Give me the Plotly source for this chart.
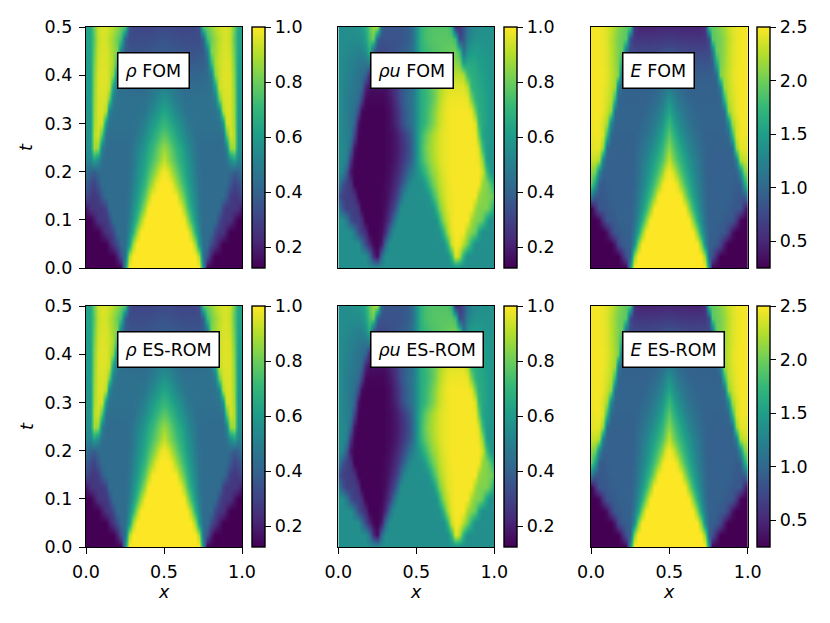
import plotly.graph_objects as go

# ---------------- data ----------------
x_grid = [0.0, 0.025, 0.05, 0.075, 0.1, 0.125, 0.15, 0.175, 0.2, 0.225, 0.25, 0.275, 0.3, 0.325,
          0.35, 0.375, 0.4, 0.425, 0.45, 0.475, 0.5, 0.525, 0.55, 0.575, 0.6, 0.625, 0.65, 0.675,
          0.7, 0.725, 0.75, 0.775, 0.8, 0.825, 0.85, 0.875, 0.9, 0.925, 0.95, 0.975, 1.0]
t_grid = [0.0, 0.025, 0.05, 0.075, 0.1, 0.125, 0.15, 0.175, 0.2, 0.225, 0.25, 0.275, 0.3, 0.325,
          0.35, 0.375, 0.4, 0.425, 0.45, 0.475, 0.5]

rho = [
 [.125,.125,.125,.125,.125,.125,.125,.125,.125,.125,.56,1,1,1,1,1,1,1,1,1,1, 1,1,1,1,1,1,1,1,1,.56,.125,.125,.125,.125,.125,.125,.125,.125,.125,.125],
 [.125,.125,.125,.125,.125,.125,.125,.125,.2,.35,.45,.88,1,1,1,1,1,1,1,1,1, 1,1,1,1,1,1,1,1,.88,.45,.35,.2,.125,.125,.125,.125,.125,.125,.125,.125],
 [.125,.125,.125,.125,.125,.125,.19,.26,.33,.43,.44,.6,.88,1,1,1,1,1,1,1,1, 1,1,1,1,1,1,1,.88,.6,.44,.43,.33,.26,.19,.125,.125,.125,.125,.125,.125],
 [.125,.125,.125,.125,.19,.26,.27,.32,.43,.43,.43,.53,.69,.88,1,1,1,1,1,1,1, 1,1,1,1,1,1,.88,.69,.53,.43,.43,.43,.32,.27,.26,.19,.125,.125,.125,.125],
 [.125,.125,.18,.255,.27,.27,.32,.43,.43,.43,.43,.49,.6,.73,.88,.99,1,1,1,1,1, 1,1,1,1,.99,.88,.73,.6,.49,.43,.43,.43,.43,.32,.27,.27,.255,.18,.125,.125],
 [.18,.25,.27,.27,.27,.31,.43,.43,.43,.43,.43,.47,.56,.65,.76,.88,.99,1,1,1,1, 1,1,1,.99,.88,.76,.65,.56,.47,.43,.43,.43,.43,.43,.31,.27,.27,.27,.25,.18],
 [.33,.28,.27,.29,.38,.43,.43,.43,.43,.43,.43,.46,.53,.6,.69,.78,.88,.99,1,1,1, 1,1,.99,.88,.78,.69,.6,.53,.46,.43,.43,.43,.43,.43,.43,.38,.29,.27,.28,.33],
 [.38,.33,.3,.37,.43,.43,.43,.43,.43,.43,.43,.45,.51,.57,.64,.71,.79,.88,.97,1,1, 1,.97,.88,.79,.71,.64,.57,.51,.45,.43,.43,.43,.43,.43,.43,.43,.37,.3,.33,.38],
 [.45,.4,.38,.42,.43,.43,.43,.43,.43,.43,.43,.45,.49,.55,.6,.66,.73,.8,.88,.96,.99, .96,.88,.8,.73,.66,.6,.55,.49,.45,.43,.43,.43,.43,.43,.43,.43,.42,.38,.4,.45],
 [.52,.52,.62,.55,.45,.43,.43,.43,.43,.43,.43,.44,.48,.53,.58,.63,.68,.74,.8,.86,.92, .86,.8,.74,.68,.63,.58,.53,.48,.44,.43,.43,.43,.43,.43,.43,.45,.55,.62,.52,.52],
 [.55,.57,.88,.85,.5,.44,.43,.43,.43,.43,.43,.44,.47,.51,.55,.6,.65,.7,.76,.82,.86, .82,.76,.7,.65,.6,.55,.51,.47,.44,.43,.43,.43,.43,.43,.44,.5,.85,.88,.57,.55],
 [.56,.58,.9,.94,.75,.46,.44,.44,.44,.44,.44,.44,.45,.48,.51,.55,.59,.64,.69,.74,.77, .74,.69,.64,.59,.55,.51,.48,.45,.44,.44,.44,.44,.44,.44,.46,.75,.94,.9,.58,.56],
 [.57,.58,.88,.95,.93,.58,.46,.45,.45,.45,.45,.45,.45,.46,.48,.51,.55,.59,.63,.67,.7, .67,.63,.59,.55,.51,.48,.46,.45,.45,.45,.45,.45,.45,.46,.58,.93,.95,.88,.58,.57],
 [.58,.59,.87,.95,.95,.9,.52,.46,.45,.45,.45,.45,.45,.45,.46,.47,.5,.53,.57,.61,.63, .61,.57,.53,.5,.47,.46,.45,.45,.45,.45,.45,.45,.46,.52,.9,.95,.95,.87,.59,.58],
 [.58,.6,.86,.95,.95,.94,.8,.5,.46,.45,.45,.45,.45,.45,.45,.45,.47,.49,.52,.55,.57, .55,.52,.49,.47,.45,.45,.45,.45,.45,.45,.45,.46,.5,.8,.94,.95,.95,.86,.6,.58],
 [.59,.6,.85,.95,.96,.95,.93,.62,.47,.44,.44,.43,.43,.43,.43,.43,.44,.46,.48,.5,.51, .5,.48,.46,.44,.43,.43,.43,.43,.43,.44,.44,.47,.62,.93,.95,.96,.95,.85,.6,.59],
 [.6,.61,.84,.95,.96,.96,.92,.84,.5,.43,.42,.41,.41,.41,.41,.41,.42,.43,.44,.46,.47, .46,.44,.43,.42,.41,.41,.41,.41,.41,.42,.43,.5,.84,.92,.96,.96,.95,.84,.61,.6],
 [.6,.62,.82,.94,.96,.95,.93,.88,.7,.43,.39,.39,.38,.38,.38,.38,.39,.4,.41,.42,.43, .42,.41,.4,.39,.38,.38,.38,.38,.39,.39,.43,.7,.88,.93,.95,.96,.94,.82,.62,.6],
 [.61,.63,.8,.93,.95,.95,.92,.87,.82,.5,.37,.36,.35,.35,.35,.35,.36,.36,.37,.37,.38, .37,.37,.36,.36,.35,.35,.35,.35,.36,.37,.5,.82,.87,.92,.95,.95,.93,.8,.63,.61],
 [.62,.64,.78,.92,.95,.94,.91,.86,.8,.72,.4,.33,.33,.33,.33,.33,.33,.34,.34,.35,.35, .35,.34,.34,.33,.33,.33,.33,.33,.33,.4,.72,.8,.86,.91,.94,.95,.92,.78,.64,.62],
 [.62,.64,.8,.93,.95,.95,.93,.9,.85,.8,.75,.35,.31,.31,.31,.31,.31,.31,.32,.32,.32, .32,.32,.31,.31,.31,.31,.31,.31,.35,.75,.8,.85,.9,.93,.95,.95,.93,.8,.64,.62],
]

rhou = [
 [.56,.56,.56,.56,.56,.56,.56,.56,.56,.56,.56,.56,.56,.56,.56,.56,.56,.56,.56,.56,.56, .56,.56,.56,.56,.56,.56,.56,.56,.56,.56,.56,.56,.56,.56,.56,.56,.56,.56,.56,.56],
 [.56,.56,.56,.56,.56,.56,.56,.56,.44,.23,.15,.42,.56,.56,.56,.56,.56,.56,.56,.56,.56, .56,.56,.56,.56,.56,.56,.56,.56,.7,.97,.89,.68,.56,.56,.56,.56,.56,.56,.56,.56],
 [.56,.56,.56,.56,.56,.56,.45,.32,.22,.14,.13,.19,.42,.56,.56,.56,.56,.56,.56,.56,.56, .56,.56,.56,.56,.56,.56,.56,.7,.93,.99,.98,.9,.8,.67,.56,.56,.56,.56,.56,.56],
 [.56,.56,.56,.56,.47,.33,.29,.24,.13,.13,.13,.15,.24,.42,.55,.56,.56,.56,.56,.56,.56, .56,.56,.56,.56,.56,.57,.7,.88,.97,.99,.99,.99,.88,.83,.79,.65,.56,.56,.56,.56],
 [.56,.56,.48,.34,.29,.29,.24,.13,.13,.13,.13,.14,.19,.27,.42,.55,.56,.56,.56,.56,.56, .56,.56,.56,.56,.57,.7,.85,.93,.98,.99,.99,.99,.99,.88,.83,.83,.78,.64,.56,.56],
 [.49,.36,.29,.29,.29,.25,.13,.13,.13,.13,.13,.14,.16,.22,.3,.42,.55,.56,.56,.56,.56, .56,.56,.56,.57,.7,.82,.9,.96,.98,.99,.99,.99,.99,.99,.87,.83,.83,.83,.76,.63],
 [.36,.3,.29,.28,.25,.13,.13,.13,.13,.13,.13,.14,.15,.19,.24,.32,.42,.54,.56,.56,.56, .56,.56,.58,.7,.8,.88,.93,.97,.98,.99,.99,.99,.99,.99,.99,.87,.84,.83,.82,.76],
 [.48,.36,.29,.26,.13,.13,.13,.13,.13,.13,.13,.13,.15,.17,.21,.26,.33,.42,.52,.56,.56, .56,.6,.7,.79,.86,.91,.95,.97,.99,.99,.99,.99,.99,.99,.99,.99,.86,.83,.76,.64],
 [.55,.52,.38,.18,.13,.13,.13,.13,.13,.13,.13,.13,.14,.16,.19,.23,.27,.34,.42,.5,.56, .62,.7,.78,.85,.89,.93,.96,.98,.99,.99,.99,.99,.99,.99,.99,.99,.94,.74,.6,.57],
 [.55,.54,.5,.26,.14,.13,.13,.13,.13,.13,.13,.13,.14,.15,.17,.2,.24,.29,.35,.43,.56, .69,.77,.83,.88,.92,.95,.97,.98,.99,.99,.99,.99,.99,.99,.99,.98,.86,.62,.58,.57],
 [.55,.54,.52,.4,.17,.13,.13,.13,.13,.13,.13,.13,.14,.15,.17,.19,.23,.27,.33,.42,.56, .7,.79,.85,.89,.93,.95,.97,.98,.99,.99,.99,.99,.99,.99,.99,.95,.72,.6,.58,.57],
 [.55,.53,.51,.48,.3,.14,.13,.13,.13,.13,.13,.13,.14,.15,.17,.2,.24,.29,.35,.43,.56, .69,.77,.83,.88,.92,.95,.97,.98,.99,.99,.99,.99,.99,.99,.98,.82,.64,.61,.59,.57],
 [.55,.53,.5,.47,.4,.17,.13,.13,.13,.13,.13,.13,.14,.16,.19,.24,.3,.36,.42,.47,.56, .65,.7,.76,.82,.88,.93,.96,.98,.99,.99,.99,.99,.99,.99,.95,.72,.65,.62,.59,.57],
 [.55,.53,.5,.47,.44,.32,.15,.13,.13,.13,.13,.13,.14,.16,.2,.25,.31,.37,.42,.47,.56, .65,.7,.75,.81,.87,.92,.96,.98,.99,.99,.99,.99,.99,.97,.8,.68,.65,.62,.59,.57],
 [.55,.53,.5,.48,.46,.43,.3,.15,.14,.14,.14,.14,.15,.18,.22,.28,.34,.39,.43,.47,.56, .65,.69,.73,.78,.84,.9,.94,.97,.98,.98,.98,.98,.97,.82,.69,.66,.64,.62,.59,.57],
 [.55,.53,.51,.49,.47,.45,.42,.22,.16,.16,.16,.16,.17,.2,.24,.29,.34,.38,.42,.46,.56, .66,.7,.74,.78,.83,.88,.92,.95,.96,.96,.96,.96,.9,.7,.67,.65,.63,.61,.59,.57],
 [.55,.54,.52,.5,.48,.46,.44,.4,.23,.21,.21,.21,.22,.24,.27,.31,.35,.38,.42,.46,.56, .66,.7,.74,.77,.81,.85,.88,.9,.91,.91,.91,.89,.72,.68,.66,.64,.62,.6,.58,.57],
 [.55,.54,.53,.51,.5,.48,.47,.47,.5,.3,.27,.28,.29,.3,.32,.34,.36,.38,.41,.45,.56, .67,.71,.74,.76,.78,.8,.82,.83,.84,.85,.82,.62,.65,.65,.64,.62,.61,.59,.58,.57],
 [.55,.55,.54,.53,.52,.51,.52,.56,.68,.4,.32,.32,.33,.34,.35,.36,.37,.39,.41,.45,.56, .67,.71,.73,.75,.76,.77,.78,.79,.8,.8,.72,.44,.56,.6,.61,.6,.59,.58,.57,.57],
 [.55,.55,.55,.55,.55,.55,.57,.62,.75,.8,.4,.35,.35,.35,.35,.35,.36,.37,.39,.44,.56, .68,.73,.75,.76,.77,.77,.77,.77,.77,.72,.32,.37,.5,.55,.57,.57,.57,.57,.57,.57],
 [.55,.55,.56,.56,.57,.58,.6,.66,.78,.86,.88,.42,.36,.36,.36,.36,.36,.37,.39,.44,.56, .68,.73,.75,.76,.76,.76,.76,.76,.7,.24,.26,.34,.46,.52,.54,.55,.56,.56,.57,.57],
]

energy = [
 [.25,.25,.25,.25,.25,.25,.25,.25,.25,.25,1.35,2.5,2.5,2.5,2.5,2.5,2.5,2.5,2.5,2.5,2.5, 2.5,2.5,2.5,2.5,2.5,2.5,2.5,2.5,2.5,1.35,.25,.25,.25,.25,.25,.25,.25,.25,.25,.25],
 [.25,.25,.25,.25,.25,.25,.25,.25,.5,.82,.95,2.09,2.5,2.5,2.5,2.5,2.5,2.5,2.5,2.5,2.5, 2.5,2.5,2.5,2.5,2.5,2.5,2.5,2.5,2.09,.95,.82,.5,.25,.25,.25,.25,.25,.25,.25,.25],
 [.25,.25,.25,.25,.25,.25,.44,.75,.88,.93,.94,1.33,2.09,2.5,2.5,2.5,2.5,2.5,2.5,2.5,2.5, 2.5,2.5,2.5,2.5,2.5,2.5,2.5,2.09,1.33,.94,.93,.88,.75,.44,.25,.25,.25,.25,.25,.25],
 [.25,.25,.25,.25,.37,.68,.87,.88,.93,.94,.94,1.16,1.54,2.09,2.48,2.5,2.5,2.5,2.5,2.5,2.5, 2.5,2.5,2.5,2.5,2.5,2.48,2.09,1.54,1.16,.94,.94,.93,.88,.87,.68,.37,.25,.25,.25,.25],
 [.25,.25,.31,.62,.86,.87,.9,.94,.94,.94,.94,1.08,1.33,1.66,2.09,2.48,2.5,2.5,2.5,2.5,2.5, 2.5,2.5,2.5,2.5,2.48,2.09,1.66,1.33,1.08,.94,.94,.94,.94,.9,.87,.86,.62,.31,.25,.25],
 [.25,.56,.86,.87,.88,.92,.94,.94,.94,.94,.94,1.04,1.22,1.45,1.73,2.09,2.48,2.5,2.5,2.5,2.5, 2.5,2.5,2.5,2.48,2.09,1.73,1.45,1.22,1.04,.94,.94,.94,.94,.94,.92,.88,.87,.86,.56,.25],
 [1.2,.9,.87,.88,.92,.94,.94,.94,.94,.94,.94,1.01,1.16,1.33,1.54,1.79,2.09,2.46,2.5,2.5,2.5, 2.5,2.5,2.46,2.09,1.79,1.54,1.33,1.16,1.01,.94,.94,.94,.94,.94,.94,.92,.88,.87,.9,1.2],
 [1.95,1.5,.92,.9,.94,.94,.94,.94,.94,.94,.94,.99,1.11,1.25,1.41,1.6,1.83,2.09,2.4,2.5,2.5, 2.5,2.4,2.09,1.83,1.6,1.41,1.25,1.11,.99,.94,.94,.94,.94,.94,.94,.94,.9,.92,1.5,1.95],
 [2.1,2.0,1.3,.95,.94,.94,.94,.94,.94,.94,.94,.98,1.08,1.2,1.33,1.48,1.66,1.86,2.09,2.36,2.48, 2.36,2.09,1.86,1.66,1.48,1.33,1.2,1.08,.98,.94,.94,.94,.94,.94,.94,.94,.95,1.3,2.0,2.1],
 [2.3,2.3,2.2,1.2,.95,.94,.94,.94,.94,.94,.94,.97,1.06,1.16,1.27,1.39,1.53,1.69,1.86,2.05,2.3, 2.05,1.86,1.69,1.53,1.39,1.27,1.16,1.06,.97,.94,.94,.94,.94,.94,.94,.95,1.2,2.2,2.3,2.3],
 [2.4,2.42,2.4,2.1,1.0,.95,.95,.95,.95,.95,.95,.97,1.03,1.1,1.18,1.28,1.4,1.55,1.72,1.9,2.1, 1.9,1.72,1.55,1.4,1.28,1.18,1.1,1.03,.97,.95,.95,.95,.95,.95,.95,1.0,2.1,2.4,2.42,2.4],
 [2.42,2.45,2.45,2.35,1.7,1.0,.96,.96,.96,.96,.96,.96,.99,1.04,1.1,1.18,1.28,1.4,1.55,1.73,1.92, 1.73,1.55,1.4,1.28,1.18,1.1,1.04,.99,.96,.96,.96,.96,.96,.96,1.0,1.7,2.35,2.45,2.45,2.42],
 [2.45,2.47,2.45,2.35,2.15,1.3,.98,.97,.97,.97,.97,.97,.97,1.0,1.04,1.1,1.18,1.28,1.4,1.57,1.75, 1.57,1.4,1.28,1.18,1.1,1.04,1.0,.97,.97,.97,.97,.97,.97,.98,1.3,2.15,2.35,2.45,2.47,2.45],
 [2.45,2.47,2.47,2.42,2.3,2.1,1.05,.97,.97,.97,.97,.97,.97,.97,1.0,1.04,1.1,1.18,1.28,1.41,1.55, 1.41,1.28,1.18,1.1,1.04,1.0,.97,.97,.97,.97,.97,.97,.97,1.05,2.1,2.3,2.42,2.47,2.47,2.45],
 [2.46,2.47,2.47,2.43,2.35,2.25,1.7,.98,.96,.96,.96,.96,.96,.96,.96,.98,1.02,1.08,1.16,1.27,1.38, 1.27,1.16,1.08,1.02,.98,.96,.96,.96,.96,.96,.96,.96,.98,1.7,2.25,2.35,2.43,2.47,2.47,2.46],
 [2.46,2.47,2.47,2.44,2.38,2.28,2.15,1.2,.96,.95,.95,.95,.95,.95,.95,.95,.97,1.0,1.06,1.13,1.2, 1.13,1.06,1.0,.97,.95,.95,.95,.95,.95,.95,.95,.96,1.2,2.15,2.28,2.38,2.44,2.47,2.47,2.46],
 [2.47,2.47,2.47,2.45,2.4,2.3,2.18,2.05,1.0,.93,.92,.92,.92,.92,.92,.92,.93,.95,.99,1.05,1.1, 1.05,.99,.95,.93,.92,.92,.92,.92,.92,.92,.93,1.0,2.05,2.18,2.3,2.4,2.45,2.47,2.47,2.47],
 [2.47,2.47,2.46,2.44,2.38,2.28,2.15,2.02,1.6,.88,.85,.84,.84,.84,.84,.84,.85,.87,.9,.93,.95, .93,.9,.87,.85,.84,.84,.84,.84,.84,.85,.88,1.6,2.02,2.15,2.28,2.38,2.44,2.46,2.47,2.47],
 [2.47,2.47,2.46,2.44,2.38,2.27,2.14,2.04,1.95,1.1,.76,.74,.73,.73,.73,.73,.74,.75,.77,.79,.8, .79,.77,.75,.74,.73,.73,.73,.73,.74,.76,1.1,1.95,2.04,2.14,2.27,2.38,2.44,2.46,2.47,2.47],
 [2.47,2.47,2.46,2.43,2.37,2.26,2.13,2.03,1.97,1.9,.8,.62,.61,.61,.61,.61,.62,.62,.63,.64,.65, .64,.63,.62,.62,.61,.61,.61,.61,.62,.8,1.9,1.97,2.03,2.13,2.26,2.37,2.43,2.46,2.47,2.47],
 [2.47,2.47,2.46,2.44,2.38,2.3,2.18,2.08,2.0,1.93,1.85,.6,.48,.47,.47,.47,.47,.48,.48,.49,.5, .49,.48,.48,.47,.47,.47,.47,.48,.6,1.85,1.93,2.0,2.08,2.18,2.3,2.38,2.44,2.46,2.47,2.47],
]

# ES-ROM reproduces the FOM picture
rho_rom, rhou_rom, energy_rom = rho, rhou, energy

for name, arr in (("rho", rho), ("rhou", rhou), ("energy", energy)):
    assert len(arr) == len(t_grid), name
    for i, row in enumerate(arr):
        assert len(row) == len(x_grid), (name, i, len(row))

panel_titles = ["<i>ρ</i> FOM", "<i>ρu</i> FOM", "<i>E</i> FOM",
                "<i>ρ</i> ES-ROM", "<i>ρu</i> ES-ROM", "<i>E</i> ES-ROM"]
panel_data = [rho, rhou, energy, rho_rom, rhou_rom, energy_rom]
z_ranges = [(0.125, 1.0), (0.125, 1.0), (0.25, 2.5)] * 2
cb_ticks = [[0.2, 0.4, 0.6, 0.8, 1.0], [0.2, 0.4, 0.6, 0.8, 1.0], [0.5, 1.0, 1.5, 2.0, 2.5]] * 2
t_ticks = [0.0, 0.1, 0.2, 0.3, 0.4, 0.5]
x_ticks = [0.0, 0.5, 1.0]

# ---------------- layout ----------------
W, H = 830, 623
FONT = "DejaVu Sans"
FS = 17.5
col_px = [(86, 242), (338.3, 494.3), (591, 747.7)]
row_px = [(27, 268), (306, 547)]
cb_px = [252, 504.3, 756.7]
LW = 1.4

fig = go.Figure()
layout = dict(
    width=W, height=H, paper_bgcolor="white", plot_bgcolor="white",
    margin=dict(l=0, r=0, t=0, b=0, autoexpand=False),
    font=dict(family=FONT, size=FS, color="black"),
    showlegend=False,
)
annotations = []

for r in range(2):
    for c in range(3):
        k = r * 3 + c
        idx = k + 1
        sfx = "" if idx == 1 else str(idx)
        x0, x1 = col_px[c]
        top, bot = row_px[r]
        zmin, zmax = z_ranges[k]
        ticks = cb_ticks[k]
        fig.add_trace(go.Heatmap(
            x=x_grid, y=t_grid, z=panel_data[k], zmin=zmin, zmax=zmax,
            colorscale="Viridis", zsmooth="best", xaxis="x" + sfx, yaxis="y" + sfx,
            hoverinfo="skip",
            colorbar=dict(
                x=cb_px[c] / W, xanchor="left", xpad=0, ypad=0,
                y=1 - (top + bot) / 2 / H, yanchor="middle",
                len=(bot - top) / H, lenmode="fraction",
                thickness=12.5, thicknessmode="pixels",
                outlinewidth=LW, outlinecolor="black",
                ticks="outside", ticklen=6, tickwidth=LW, tickcolor="black",
                tickvals=ticks, ticktext=["%.1f" % v for v in ticks],
                tickfont=dict(family=FONT, size=FS, color="black"),
            ),
        ))
        xa = dict(domain=[x0 / W, x1 / W], range=[0, 1], anchor="y" + sfx,
                  showgrid=False, zeroline=False, showline=True, mirror=True,
                  linecolor="black", linewidth=LW)
        ya = dict(domain=[1 - bot / H, 1 - top / H], range=[0, 0.5], anchor="x" + sfx,
                  showgrid=False, zeroline=False, showline=True, mirror=True,
                  linecolor="black", linewidth=LW)
        if r == 1:
            xa.update(ticks="outside", ticklen=6, tickwidth=LW, tickcolor="black",
                      tickvals=x_ticks, ticktext=["%.1f" % v for v in x_ticks],
                      showticklabels=True, tickfont=dict(family=FONT, size=FS, color="black"),
                      ticklabelstandoff=3)
        else:
            xa.update(ticks="", showticklabels=False)
        if c == 0:
            ya.update(ticks="outside", ticklen=6, tickwidth=LW, tickcolor="black",
                      tickvals=t_ticks, ticktext=["%.1f" % v for v in t_ticks],
                      showticklabels=True, tickfont=dict(family=FONT, size=FS, color="black"),
                      ticklabelstandoff=3)
        else:
            ya.update(ticks="", showticklabels=False)
        layout["xaxis" + sfx] = xa
        layout["yaxis" + sfx] = ya

        annotations.append(dict(
            x=0.2, y=0.41, xref="x" + sfx, yref="y" + sfx, xanchor="left", yanchor="middle",
            text=panel_titles[k], showarrow=False, bgcolor="white",
            bordercolor="black", borderwidth=1.5, borderpad=7,
            font=dict(family=FONT, size=FS, color="black"),
        ))
        if c == 0:
            annotations.append(dict(
                x=26.5 / W, y=1 - (top + bot) / 2 / H, xref="paper", yref="paper",
                text="<i>t</i>", showarrow=False, textangle=-90,
                xanchor="center", yanchor="middle",
                font=dict(family=FONT, size=FS, color="black"),
            ))
        if r == 1:
            annotations.append(dict(
                x=(x0 + x1) / 2 / W, y=1 - 592 / H, xref="paper", yref="paper",
                text="<i>x</i>", showarrow=False, xanchor="center", yanchor="middle",
                font=dict(family=FONT, size=FS, color="black"),
            ))

layout["annotations"] = annotations
fig.update_layout(**layout)
fig.write_html("out.html", config={"displayModeBar": False},
               post_script="document.body.style.margin='0px';document.body.style.padding='0px';")
